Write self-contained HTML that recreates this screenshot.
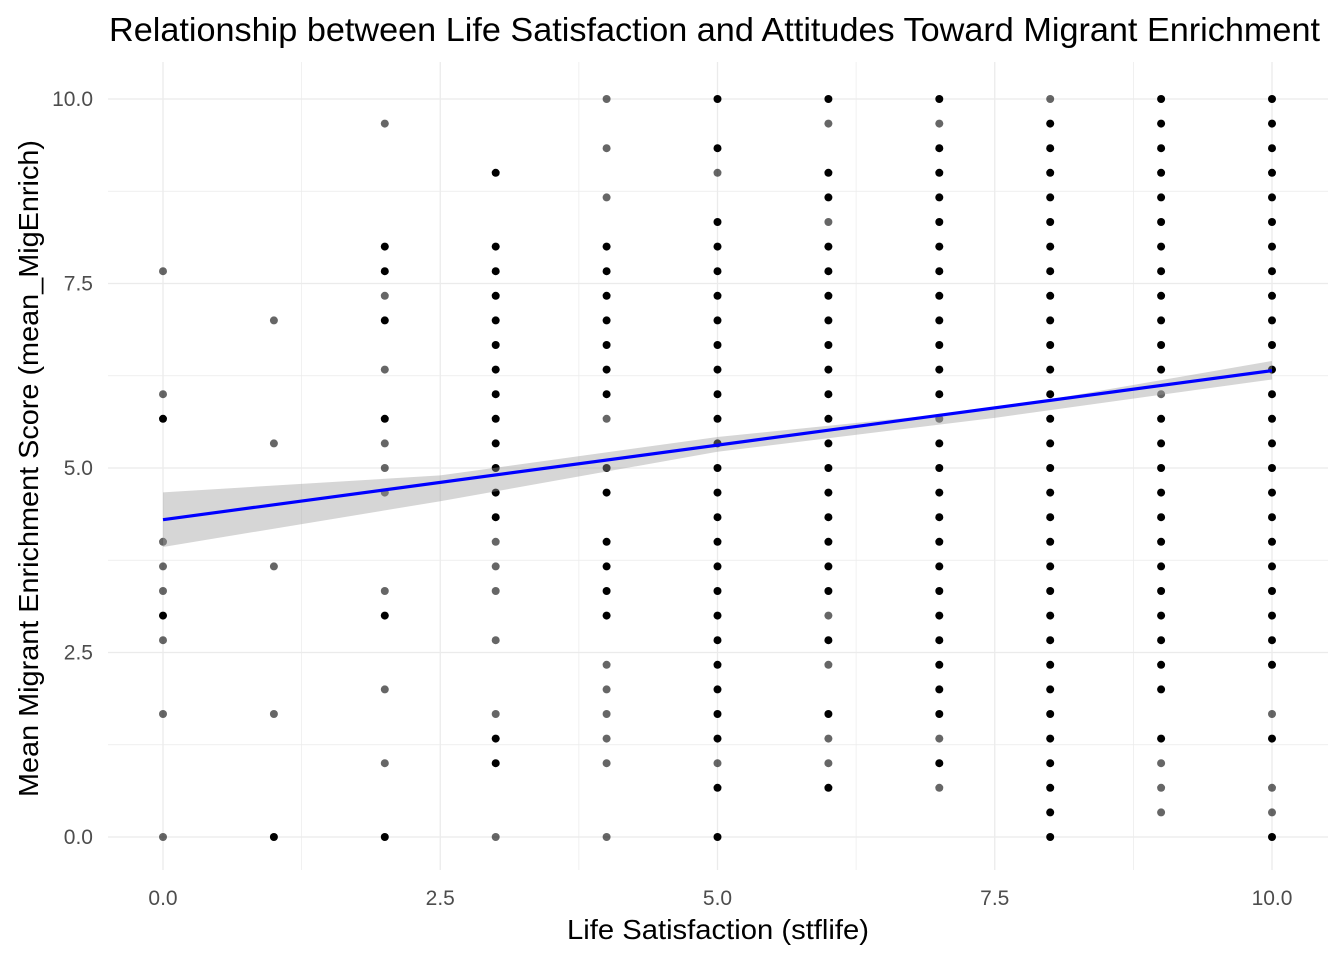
<!DOCTYPE html>
<html><head><meta charset="utf-8"><style>
body{margin:0;background:#fff}
svg{display:block;font-family:"Liberation Sans",Arial,sans-serif}
</style></head><body>
<svg id="c" width="1344" height="960"></svg>
<script>
const xTicks=[0,2.5,5,7.5,10];
const yTicks=[0,2.5,5,7.5,10];
const xTickLabels=["0.0","2.5","5.0","7.5","10.0"];
const yTickLabels=["0.0","2.5","5.0","7.5","10.0"];
const col0=[23,18,17,12,11,10,9,8,5,0];const col0d=[17,9];
const col1=[21,16,11,5,0];const col1d=[0];
const col2=[29,24,23,22,21,19,17,16,15,14,10,9,6,3,0];const col2d=[24,23,21,17,9,0];
const col3=[27,24,23,22,21,20,19,18,17,16,15,14,13,12,11,10,8,5,4,3,0];const col3d=[27,24,23,22,21,20,19,18,17,16,15,14,13,4,3];
const col4=[30,28,26,24,23,22,21,20,19,18,17,15,14,12,11,10,9,7,6,5,4,3,0];const col4d=[24,23,22,21,20,19,18,15,14,12,11,10,9];
const col5=[30,28,27,25,24,23,22,21,20,19,18,17,16,15,14,13,12,11,10,9,8,7,6,5,4,3,2,0];const col5d=[30,28,25,24,23,22,21,20,19,18,17,16,15,14,13,12,11,10,9,8,7,6,5,4,2,0];
const col6=[30,29,27,26,25,24,23,22,21,20,19,18,17,16,15,14,13,12,11,10,9,8,7,5,4,3,2];const col6d=[30,27,26,24,23,22,21,20,19,18,17,16,15,14,13,12,11,10,8,5,2];
const col7=[30,29,28,27,26,25,24,23,22,21,20,19,18,17,16,15,14,13,12,11,10,9,8,7,6,5,4,3,2];const col7d=[30,28,27,26,25,24,23,22,21,20,19,18,16,15,14,13,12,11,10,9,8,7,6,5,3];
const col8=[30,29,28,27,26,25,24,23,22,21,20,19,18,17,16,15,14,13,12,11,10,9,8,7,6,5,4,3,2,1,0];const col8d=[29,28,27,26,25,24,23,22,21,20,19,18,17,16,15,14,13,12,11,10,9,8,7,6,5,4,3,2,1,0];
const col9=[30,29,28,27,26,25,24,23,22,21,20,19,18,17,16,15,14,13,12,11,10,9,8,7,6,4,3,2,1];const col9d=[30,29,28,27,26,25,24,23,22,21,20,19,17,16,15,14,13,12,11,10,9,8,7,6,4];
const col10=[30,29,28,27,26,25,24,23,22,21,20,19,18,17,16,15,14,13,12,11,10,9,8,7,5,4,2,1,0];const col10d=[30,29,28,27,26,25,24,23,22,21,20,19,18,17,16,15,14,13,12,11,10,9,8,7,4,0];
const columns=[col0,col1,col2,col3,col4,col5,col6,col7,col8,col9,col10];
const dense=[col0d,col1d,col2d,col3d,col4d,col5d,col6d,col7d,col8d,col9d,col10d];
const fitX=[0,10];const fitY=[4.3,6.32];
const ciX=[0,2.5,5,7.5,10];const ciLo=[3.93,4.55,5.22,5.68,6.2];const ciHi=[4.67,4.9,5.42,5.8,6.45];

const svg=document.getElementById('c');const NS='http://www.w3.org/2000/svg';
const X=v=>163+v*110.9, Y=v=>837-v*73.8;
function mk(t,a,p){const e=document.createElementNS(NS,t);for(const k in a)e.setAttribute(k,a[k]);(p||svg).appendChild(e);return e;}
const grid=mk('g',{});
for(let v=-1.25;v<=11.25;v+=1.25){const major=Math.abs(v/2.5-Math.round(v/2.5))<1e-6;
 const x=X(v);if(x>=108&&x<=1328)mk('line',{x1:x,x2:x,y1:62,y2:870,stroke:'#ebebeb','stroke-width':major?1.3:0.7},grid);
 const y=Y(v);if(y>=62&&y<=870)mk('line',{x1:108,x2:1328,y1:y,y2:y,stroke:'#ebebeb','stroke-width':major?1.3:0.7},grid);}
xTicks.forEach((v,i)=>{const t=mk('text',{x:X(v),y:905,'text-anchor':'middle','font-size':21,fill:'#4d4d4d'});t.textContent=xTickLabels[i];
 });
yTicks.forEach((v,i)=>{const t=mk('text',{x:93,y:Y(v)+7,'text-anchor':'end','font-size':21,fill:'#4d4d4d'});t.textContent=yTickLabels[i];
 });
const pts=mk('g',{});
columns.forEach((c,xi)=>c.forEach(t=>{const d=dense[xi].includes(t);
 const e=mk('circle',{cx:X(xi),cy:Y(t/3),r:4,fill:'#000','fill-opacity':d?1:0.6},pts);
 }));
let dp='';ciX.forEach((v,i)=>dp+=(i?'L':'M')+X(v)+','+Y(ciHi[i]));
for(let i=ciX.length-1;i>=0;i--)dp+='L'+X(ciX[i])+','+Y(ciLo[i]);
const band=mk('path',{d:dp+'Z',fill:'#999','fill-opacity':0.4});

const ln=mk('line',{x1:X(fitX[0]),y1:Y(fitY[0]),x2:X(fitX[1]),y2:Y(fitY[1]),stroke:'#0000ff','stroke-width':3.2});

const ti=mk('text',{x:109,y:41,'font-size':33,fill:'#000',textLength:1211,lengthAdjust:'spacingAndGlyphs'});ti.textContent='Relationship between Life Satisfaction and Attitudes Toward Migrant Enrichment';

const xt=mk('text',{x:567,y:939,'font-size':28,fill:'#000',textLength:302,lengthAdjust:'spacingAndGlyphs'});xt.textContent='Life Satisfaction (stflife)';

const yt=mk('text',{x:0,y:0,'font-size':28,fill:'#000',textLength:657,lengthAdjust:'spacingAndGlyphs',transform:'translate(38,797) rotate(-90)'});yt.textContent='Mean Migrant Enrichment Score (mean_MigEnrich)';

</script></body></html>
